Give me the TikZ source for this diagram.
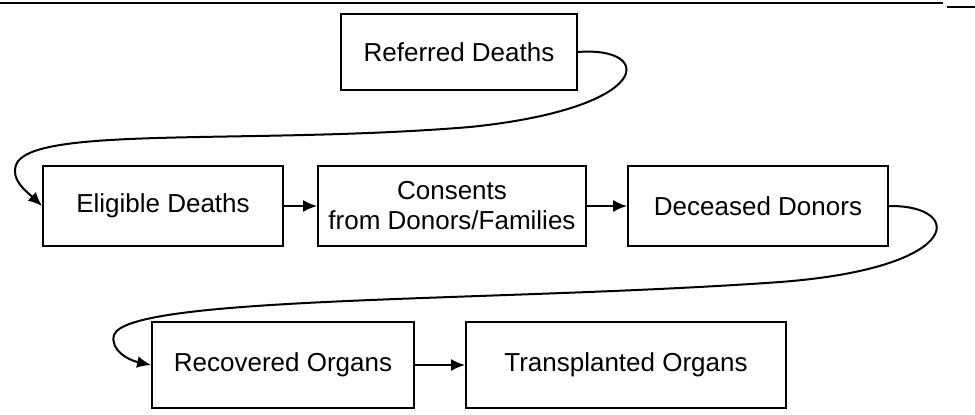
\documentclass[tikz,border=0pt]{standalone}
\usepackage{fontspec}
\setmainfont{Liberation Sans}
\usetikzlibrary{shapes, arrows.meta}

\begin{document}
\begin{tikzpicture}[auto,>={Latex[length=7pt,width=6pt]}, x=0.5pt, y=-0.5pt]

\tikzstyle{block} = [draw, shape=rectangle, minimum height=40pt, line width=0.9pt, font=\fontsize{13}{15}\selectfont, align=center, inner sep=2pt]
\tikzstyle{flow} = [->, line width=1pt]

\useasboundingbox (0,0) rectangle (975,414);
\draw[line width=1.3pt] (0,3) -- (943,3);
\draw[line width=1.3pt] (947,7) -- (975,7);

\node [block, minimum width=118pt, minimum height=38pt] at (459,52) (referred) {Referred Deaths};
\node [block, minimum width=120pt] at (163,206) (eligible) {Eligible Deaths};
\node [block, minimum width=134pt] at (452,206) (consents) {Consents\\from Donors/Families};
\node [block, minimum width=130pt] at (758,206) (deceased) {Deceased Donors};
\node [block, minimum width=131pt, minimum height=43pt] at (283,365) (recovered) {Recovered Organs};
\node [block, minimum width=160pt, minimum height=43pt] at (626,365) (transplanted) {Transplanted Organs};

\begin{scope}[line width=1pt]
     \draw[flow] (referred.east) .. controls (655,46) and (655,108) .. (470,127)
          .. controls (250,145) and (30,125) .. (16,165)
          .. controls (11,180) and (25,190) .. (eligible.west);
     \draw[flow] (eligible) -- (consents);
     \draw[flow] (consents) -- (deceased);
     \draw[flow] (deceased.east) .. controls (965,205) and (965,268) .. (780,282)
          .. controls (500,302) and (128,295) .. (114,335)
          .. controls (110,350) and (128,360) .. (recovered.west);
     \draw[flow] (recovered) -- (transplanted);
\end{scope}
\end{tikzpicture}
\end{document}
